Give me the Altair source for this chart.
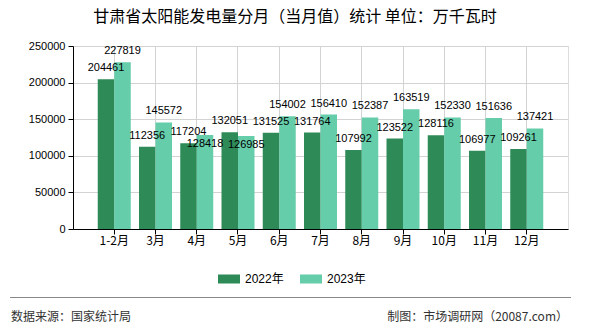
import altair as alt
import pandas as pd

months = ["1-2月", "3月", "4月", "5月", "6月", "7月", "8月", "9月", "10月", "11月", "12月"]
years = ["2022年", "2023年"]
v2022 = [204461, 112356, 117204, 132051, 131525, 131764, 107992, 123522, 128116, 106977, 109261]
v2023 = [227819, 145572, 128418, 126985, 154002, 156410, 152387, 163519, 152330, 151636, 137421]
colors = ["#2e8b57", "#66cdaa"]
y_ticks = [0, 50000, 100000, 150000, 200000, 250000]

title_text = "甘肃省太阳能发电量分月（当月值）统计 单位：万千瓦时"
source_text = "数据来源：国家统计局"
maker_text = "制图：市场调研网（20087.com）"

PLOT_W, PLOT_H, YMAX = 495, 183, 250000
LABEL_H = 12  # label text height in px, used to detect overlapping label pairs

rows = []
for m, a, b in zip(months, v2022, v2023):
    # when the two labels of a month would collide, the 2023 label is moved below its bar top
    clash = abs(b - a) * PLOT_H / YMAX < LABEL_H
    rows.append({"month": m, "year": years[0], "value": a, "shift": False})
    rows.append({"month": m, "year": years[1], "value": b, "shift": bool(clash)})
df = pd.DataFrame(rows)

CJK = "'Noto Sans CJK SC', sans-serif"
NUM = "'Liberation Sans', 'Noto Sans CJK SC', sans-serif"

x_enc = alt.X(
    "month:N",
    sort=months,
    scale=alt.Scale(paddingInner=0.2, paddingOuter=0.6),
    axis=alt.Axis(
        title=None, labelAngle=0, grid=True, gridColor="#d3d3d3",
        domainColor="#000", tickColor="#000", tickSize=5,
        labelFont=CJK, labelFontSize=12, labelColor="#000", labelPadding=1,
    ),
)
xoff = alt.XOffset("year:N", sort=years, scale=alt.Scale(paddingInner=0, paddingOuter=0))
y_enc = alt.Y(
    "value:Q",
    scale=alt.Scale(domain=[0, YMAX], nice=False),
    axis=alt.Axis(
        title=None, values=y_ticks, format="d", grid=True, gridColor="#d3d3d3",
        domainColor="#000", tickColor="#000", tickSize=5,
        labelOverlap=False, labelFlush=False, labelBound=False,
        labelFont=NUM, labelFontSize=11, labelColor="#000", labelPadding=3,
    ),
)

base = alt.Chart(df)
bars = base.mark_bar().encode(
    x=x_enc,
    xOffset=xoff,
    y=y_enc,
    color=alt.Color(
        "year:N",
        sort=years,
        scale=alt.Scale(domain=years, range=colors),
        legend=alt.Legend(
            title=None, orient="none", legendX=145, legendY=222,
            direction="horizontal",
            symbolType="M-1,-0.41H1V0.41H-1Z", symbolSize=484,
            symbolStrokeWidth=0, symbolOpacity=1,
            labelFont=NUM, labelFontSize=12, labelColor="#000",
            labelOffset=5, columnPadding=16,
        ),
    ),
)


def label_layer(shifted, dy):
    return base.transform_filter(
        alt.datum.shift if shifted else ~alt.datum.shift
    ).mark_text(
        baseline="alphabetic", dy=dy, font=NUM, fontSize=11, color="#000"
    ).encode(
        x=x_enc,
        xOffset=xoff,
        y=y_enc,
        text="value:Q",
    )


labels = label_layer(False, -8)
labels_shifted = label_layer(True, 12)

title = alt.Chart(pd.DataFrame({"t": [title_text]})).mark_text(
    font=CJK, fontSize=16, color="#000", align="center", baseline="middle"
).encode(text="t:N", x=alt.value(222), y=alt.value(-29))

rule = alt.Chart(pd.DataFrame({"t": [0]})).mark_rule(color="#888", strokeWidth=1).encode(
    x=alt.value(-63), x2=alt.value(498), y=alt.value(251.5)
)
src = alt.Chart(pd.DataFrame({"t": [source_text]})).mark_text(
    font=CJK, fontSize=12, color="#333", align="left", baseline="middle"
).encode(text="t:N", x=alt.value(-62), y=alt.value(270.5))
mk = alt.Chart(pd.DataFrame({"t": [maker_text]})).mark_text(
    font=CJK, fontSize=12, color="#333", align="right", baseline="middle"
).encode(text="t:N", x=alt.value(495), y=alt.value(270.5))

chart = alt.layer(bars, labels, labels_shifted, title, rule, src, mk).properties(
    width=PLOT_W, height=PLOT_H,
    autosize=alt.AutoSizeParams(type="none"),
    padding={"left": 73, "top": 46, "right": 22, "bottom": 101},
).configure_view(stroke="#d3d3d3").configure(background="white")

chart.save("out.html", embed_options={"renderer": "svg", "actions": False})
